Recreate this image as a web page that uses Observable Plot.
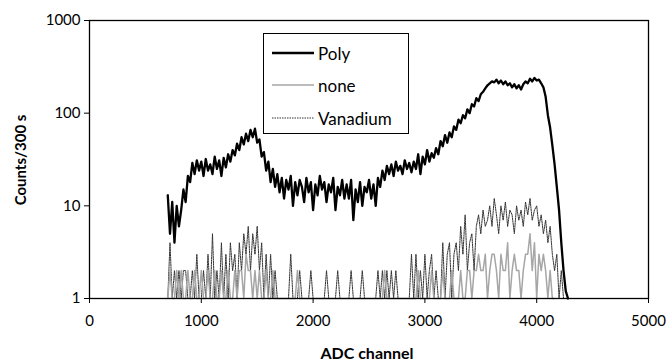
<!DOCTYPE html>
<html>
<head>
<meta charset="utf-8">
<script src="https://cdn.jsdelivr.net/npm/d3@7"></script>
<script src="https://cdn.jsdelivr.net/npm/@observablehq/plot@0.6"></script>
<style>
  html, body { margin: 0; padding: 0; background: #fff; }
  #wrap { position: relative; width: 666px; height: 360px; font-family: Lato, "Open Sans", sans-serif; }
  .ttl { position: absolute; font-weight: bold; color: #000; white-space: nowrap; }
  #legend { position: absolute; left: 263px; top: 33px; width: 146px; height: 101px; border: 1.3px solid #000; background: #fff; box-sizing: border-box; }
  .lrow { position: absolute; left: 8px; height: 20px; display: flex; align-items: center; font-size: 17px; }
  .lrow svg { margin-right: 4px; }
</style>
</head>
<body>
<div id="wrap"></div>
<script>
// ---- data ----
const xTicks = [0, 1000, 2000, 3000, 4000, 5000];
const yTicks = [1, 10, 100, 1000];
const seriesNames = ["Poly", "none", "Vanadium"];

// Poly: channels 700..4280, every 20 channels
const polyChannels = d3.range(700, 4281, 20);
const polyCounts = [
  13, 5, 11, 4, 10, 6, 9, 15, 11, 21,
  18, 29, 22, 31, 24, 30, 21, 32, 24, 28,
  22, 34, 25, 31, 21, 33, 26, 36, 30, 40,
  35, 47, 40, 55, 46, 60, 50, 66, 55, 68,
  48, 52, 34, 38, 24, 30, 18, 25, 16, 22,
  14, 20, 12, 19, 15, 21, 10, 18, 13, 19,
  16, 11, 20, 14, 18, 9, 17, 13, 21, 15,
  18, 11, 17, 14, 20, 9, 16, 13, 19, 12,
  17, 12, 19, 7, 15, 11, 18, 10, 16, 14,
  19, 12, 17, 10, 20, 16, 24, 19, 27, 22,
  28, 21, 30, 24, 27, 22, 31, 25, 29, 23,
  30, 25, 36, 22, 34, 28, 40, 30, 37, 33,
  42, 36, 50, 44, 58, 48, 62, 55, 72, 66,
  85, 78, 95, 88, 110, 100, 125, 118, 145, 135,
  160, 170, 185, 200, 210, 220, 215, 230, 210, 225,
  205, 220, 200, 210, 190, 205, 185, 200, 180, 205,
  220, 210, 235, 220, 240, 225, 230, 210, 190, 150,
  95, 70, 45, 28, 16, 9, 4, 2, 1.2, 1
];

// none: channels 700..4160, every 20 channels (1 = axis floor)
const noneChannels = d3.range(700, 4161, 20);
const noneCounts = [
  1, 2, 1, 1, 2, 1, 2, 1, 1, 2,
  1, 1, 2, 1, 1, 2, 1, 1, 2, 1,
  1, 2, 1, 1, 2, 1, 1, 2, 1, 1,
  2, 1, 2, 2, 1, 3, 2, 2, 1, 2,
  1, 2, 1, 1, 2, 1, 1, 2, 1, 1,
  1, 1, 1, 1, 1, 1, 1, 1, 2, 1,
  1, 1, 1, 1, 1, 1, 1, 1, 1, 1,
  1, 1, 1, 1, 1, 1, 1, 1, 1, 1,
  1, 1, 1, 1, 1, 1, 1, 1, 1, 1,
  1, 1, 1, 1, 1, 1, 1, 2, 1, 1,
  1, 1, 1, 1, 1, 1, 1, 1, 1, 1,
  1, 1, 2, 1, 1, 1, 1, 1, 2, 1,
  1, 1, 1, 2, 1, 1, 1, 2, 1, 1,
  1, 2, 1, 1, 2, 2, 1, 2, 2, 3,
  2, 2, 3, 1, 2, 3, 3, 2, 1, 3,
  2, 2, 4, 1, 2, 3, 2, 2, 1, 2,
  3, 3, 5, 2, 4, 1, 3, 2, 3, 2,
  1, 2, 1, 1
];

// Vanadium: channels 700..4240, every 20 channels (1 = axis floor)
const vanChannels = d3.range(700, 4241, 20);
const vanCounts = [
  1, 4, 1, 2, 1, 2, 1, 2, 2, 1,
  1, 2, 1, 3, 1, 1, 2, 1, 3, 1,
  5, 1, 2, 1, 4, 1, 3, 1, 4, 2,
  3, 1, 4, 2, 5, 3, 6, 2, 5, 3,
  6, 2, 4, 1, 3, 1, 3, 1, 2, 1,
  1, 1, 1, 1, 1, 3, 1, 1, 1, 2,
  1, 1, 1, 1, 2, 1, 1, 1, 1, 1,
  1, 2, 1, 1, 1, 1, 2, 1, 1, 1,
  1, 1, 2, 1, 1, 1, 1, 2, 1, 1,
  1, 1, 1, 1, 2, 1, 2, 1, 2, 1,
  2, 1, 2, 1, 1, 1, 1, 1, 1, 3,
  1, 3, 1, 2, 1, 3, 1, 2, 3, 1,
  2, 1, 1, 4, 1, 3, 4, 1, 3, 4,
  2, 6, 3, 8, 2, 4, 5, 2, 6, 8,
  5, 9, 6, 7, 10, 6, 12, 8, 5, 10,
  7, 11, 6, 9, 8, 5, 10, 7, 9, 6,
  11, 8, 12, 7, 9, 10, 6, 8, 5, 7,
  4, 6, 3, 2, 3, 1, 2, 1
];

const poly = polyChannels.map((c, i) => ({x: c, y: polyCounts[i]}));
const none = noneChannels.map((c, i) => ({x: c, y: noneCounts[i]}));
const van = vanChannels.map((c, i) => ({x: c, y: vanCounts[i]}));

const styles = {
  Poly: {stroke: "#000", strokeWidth: 2.3},
  none: {stroke: "#a6a6a6", strokeWidth: 1.5},
  Vanadium: {stroke: "#333", strokeWidth: 1, strokeDasharray: "1.5,1"}
};

const chart = Plot.plot({
  width: 666,
  height: 360,
  marginLeft: 89,
  marginRight: 18,
  marginTop: 20,
  marginBottom: 62,
  style: {fontFamily: "Lato, 'Open Sans', sans-serif", fontSize: "15px", color: "#000", background: "#fff"},
  x: {domain: [0, 5000]},
  y: {type: "log", domain: [1, 1000]},
  marks: [
    Plot.line(poly, {x: "x", y: "y", ...styles.Poly}),
    Plot.line(van, {x: "x", y: "y", ...styles.Vanadium}),
    Plot.line(none, {x: "x", y: "y", ...styles.none}),
    Plot.frame({stroke: "#000", strokeWidth: 1.3}),
    Plot.axisX({ticks: xTicks, tickFormat: d => String(d), tickSize: 5, tickPadding: 12, label: null, fontSize: 15}),
    Plot.axisY({ticks: yTicks, tickFormat: d => String(d), tickSize: 5, tickPadding: 4, label: null, fontSize: 15})
  ]
});

const wrap = document.getElementById("wrap");
wrap.appendChild(chart);

const xt = document.createElement("div");
xt.className = "ttl";
xt.textContent = "ADC channel";
xt.style.fontSize = "16px";
xt.style.left = "367px"; xt.style.top = "352px";
xt.style.transform = "translate(-50%, -50%)";
wrap.appendChild(xt);

const yt = document.createElement("div");
yt.className = "ttl";
yt.textContent = "Counts/300 s";
yt.style.fontSize = "15px";
yt.style.left = "20px"; yt.style.top = "160px";
yt.style.transform = "translate(-50%, -50%) rotate(-90deg)";
wrap.appendChild(yt);

const leg = document.createElement("div");
leg.id = "legend";
const rowCenters = [19, 51, 84];
seriesNames.forEach((name, i) => {
  const row = document.createElement("div");
  row.className = "lrow";
  row.style.top = (rowCenters[i] - 10) + "px";
  const s = styles[name];
  row.innerHTML = `<svg width="42" height="10"><line x1="0" y1="5" x2="42" y2="5" stroke="${s.stroke}" stroke-width="${s.strokeWidth}" ${s.strokeDasharray ? `stroke-dasharray="${s.strokeDasharray}"` : ""}/></svg><span>${name}</span>`;
  leg.appendChild(row);
});
wrap.appendChild(leg);
</script>
</body>
</html>
